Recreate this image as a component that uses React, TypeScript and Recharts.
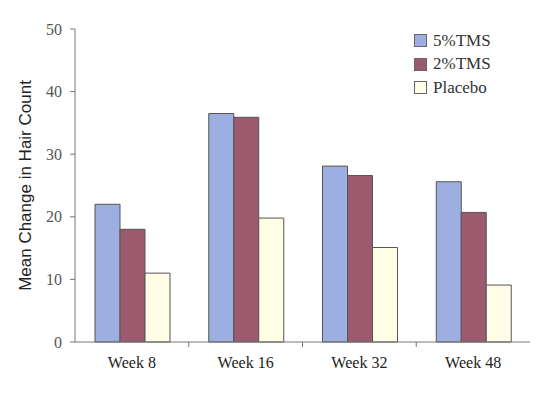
import { BarChart, Bar, XAxis, YAxis, Legend } from 'recharts'

const weeks = ['Week 8', 'Week 16', 'Week 32', 'Week 48']
const tms5 = [22, 36.5, 28.1, 25.6]
const tms2 = [18, 35.9, 26.6, 20.7]
const placebo = [11, 19.8, 15.1, 9.1]
const yTicks = [0, 10, 20, 30, 40, 50]

const SERIES = [
  { key: 'tms5', name: '5%TMS', color: '#9cafe0' },
  { key: 'tms2', name: '2%TMS', color: '#9b5a6d' },
  { key: 'placebo', name: 'Placebo', color: '#fffde6' },
]

const data = weeks.map((week, i) => ({
  week,
  tms5: tms5[i],
  tms2: tms2[i],
  placebo: placebo[i],
}))

const serif = '"Liberation Serif", "Times New Roman", serif'

// category label plus a small tick at the left edge of each band
function WeekTick(props: any) {
  const { x, y, payload, index } = props
  const half = payload.offset || 0
  return (
    <g>
      {index > 0 && (
        <line x1={x - half} x2={x - half} y1={y - 8} y2={y - 3} stroke="#777" />
      )}
      <text x={x} y={y + 18} textAnchor="middle" style={{ fontFamily: serif }} fontSize={16} fill="#222">
        {payload.value}
      </text>
    </g>
  )
}

function LegendBox() {
  return (
    <div style={{ fontFamily: serif, fontSize: 17, color: '#333' }}>
      {SERIES.map((s) => (
        <div key={s.key} style={{ display: 'flex', alignItems: 'center', height: 23.5 }}>
          <span
            style={{
              display: 'inline-block',
              width: 11,
              height: 11,
              background: s.color,
              border: '1px solid #666',
              marginRight: 6,
            }}
          />
          {s.name}
        </div>
      ))}
    </div>
  )
}

export default function App() {
  return (
    <div style={{ position: 'absolute', left: 0, top: 0, background: '#fff' }}>
      <BarChart
        width={550}
        height={400}
        data={data}
        margin={{ top: 29, right: 20, bottom: 18, left: 15 }}
        barCategoryGap={20}
        barGap={0}
      >
        <XAxis
          dataKey="week"
          height={40}
          tickLine={false}
          axisLine={{ stroke: '#777' }}
          tick={<WeekTick />}
          interval={0}
        />
        <YAxis
          width={60}
          domain={[0, 50]}
          ticks={yTicks}
          tickSize={5}
          tickMargin={8}
          axisLine={{ stroke: '#777' }}
          tickLine={{ stroke: '#777' }}
          tick={{ style: { fontFamily: serif }, fontSize: 16, fill: '#555' }}
          label={{
            value: 'Mean Change in Hair Count',
            angle: -90,
            position: 'insideLeft',
            offset: 10,
            style: { textAnchor: 'middle', fontFamily: '"Liberation Sans", Arial, sans-serif', fontSize: 17, fill: '#222' },
          }}
        />
        <Legend
          layout="vertical"
          verticalAlign="middle"
          align="center"
          content={<LegendBox />}
          wrapperStyle={{ top: 29, left: 414, width: 120 }}
        />
        {SERIES.map((s) => (
          <Bar
            key={s.key}
            dataKey={s.key}
            name={s.name}
            fill={s.color}
            stroke="#555"
            strokeWidth={1}
            isAnimationActive={false}
          />
        ))}
      </BarChart>
    </div>
  )
}
